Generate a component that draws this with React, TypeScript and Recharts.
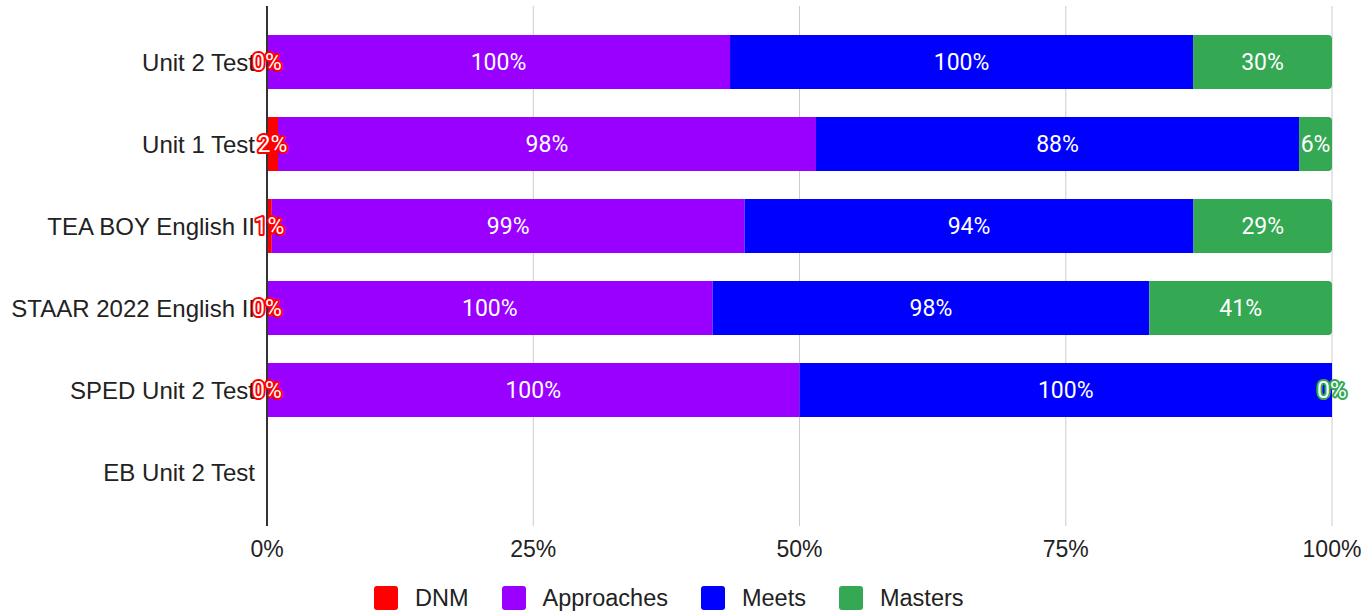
import React from "react";
import {
  Bar,
  BarChart,
  CartesianGrid,
  LabelList,
  XAxis,
  YAxis,
} from "recharts";

const RED = "#ff0000";
const PURPLE = "#9900ff";
const BLUE = "#0000ff";
const GREEN = "#34a853";

const categories = [
  "Unit 2 Test",
  "Unit 1 Test",
  "TEA BOY English II",
  "STAAR 2022 English II",
  "SPED Unit 2 Test",
  "EB Unit 2 Test",
];

// percent values as shown on the labels (null = no data)
const dnm = [0, 2, 1, 0, 0, null];
const approaches = [100, 98, 99, 100, 100, null];
const meets = [100, 88, 94, 98, 100, null];
const masters = [30, 6, 29, 41, 0, null];

const xTicks = [0, 0.25, 0.5, 0.75, 1];

const series = [
  { key: "dnm", name: "DNM", color: RED, values: dnm },
  { key: "approaches", name: "Approaches", color: PURPLE, values: approaches },
  { key: "meets", name: "Meets", color: BLUE, values: meets },
  { key: "masters", name: "Masters", color: GREEN, values: masters },
];

// zero segments get a hair-thin width so their "0%" label still gets drawn
const TINY = 1e-6;

const data = categories.map((name, i) => {
  const row: Record<string, any> = { name };
  series.forEach((s) => {
    const v = s.values[i];
    row[s.key] = v === 0 ? TINY : v;
    row[s.key + "Label"] = v;
  });
  return row;
});

const AXIS_FONT = "'Liberation Sans', Arial, sans-serif";

function makeLabel(color: string) {
  return (props: any) => {
    const { x, y, width, height, value } = props;
    if (value === null || value === undefined) return null;
    return (
      <text
        x={Number(x) + Number(width) / 2}
        y={Number(y) + Number(height) / 2}
        textAnchor="middle"
        dominantBaseline="central"
        fill="#fff"
        stroke={color}
        strokeWidth={4}
        strokeLinejoin="round"
        paintOrder="stroke"
        fontFamily="Roboto, sans-serif"
        fontWeight={400}
        fontSize={23}
      >
        {value}%
      </text>
    );
  };
}

function ChartLegend() {
  return (
    <div
      style={{
        position: "absolute",
        left: 374,
        top: 586,
        height: 24,
        display: "flex",
        alignItems: "center",
        fontFamily: AXIS_FONT,
        fontSize: 23.5,
        color: "#222",
      }}
    >
      {series.map((s) => (
        <div
          key={s.key}
          style={{ display: "flex", alignItems: "center", marginRight: 33 }}
        >
          <span
            style={{
              display: "inline-block",
              width: 24,
              height: 24,
              borderRadius: 3,
              background: s.color,
              marginRight: 17,
            }}
          />
          <span>{s.name}</span>
        </div>
      ))}
    </div>
  );
}

export default function App() {
  return (
    <div
      style={{
        position: "absolute",
        left: 0,
        top: 0,
        width: 1369,
        height: 612,
        background: "#fff",
      }}
    >
      <BarChart
        width={1369}
        height={612}
        data={data}
        layout="vertical"
        stackOffset="expand"
        barSize={54}
        margin={{ top: 6, right: 37, bottom: 46, left: 0 }}
      >
        <CartesianGrid horizontal={false} stroke="#cccccc" />
        <XAxis
          type="number"
          domain={[0, 1]}
          ticks={xTicks}
          tickFormatter={(v: number) => `${Math.round(v * 100)}%`}
          axisLine={false}
          tickLine={false}
          tickMargin={9}
          height={40}
          tick={{ fontSize: 23, fill: "#222", fontFamily: AXIS_FONT }}
        />
        <YAxis
          type="category"
          dataKey="name"
          width={267}
          padding={{ top: 15, bottom: 13 }}
          axisLine={{ stroke: "#333", strokeWidth: 2 }}
          tickLine={false}
          tickMargin={6}
          tick={{ fontSize: 24, fill: "#222", fontFamily: AXIS_FONT }}
        />
        {series.map((s) => (
          <Bar
            key={s.key}
            dataKey={s.key}
            name={s.name}
            stackId="a"
            fill={s.color}
            radius={s.key === "masters" ? [0, 4, 4, 0] : 0}
            isAnimationActive={false}
          >
            <LabelList dataKey={s.key + "Label"} content={makeLabel(s.color)} />
          </Bar>
        ))}
      </BarChart>
      <ChartLegend />
    </div>
  );
}
